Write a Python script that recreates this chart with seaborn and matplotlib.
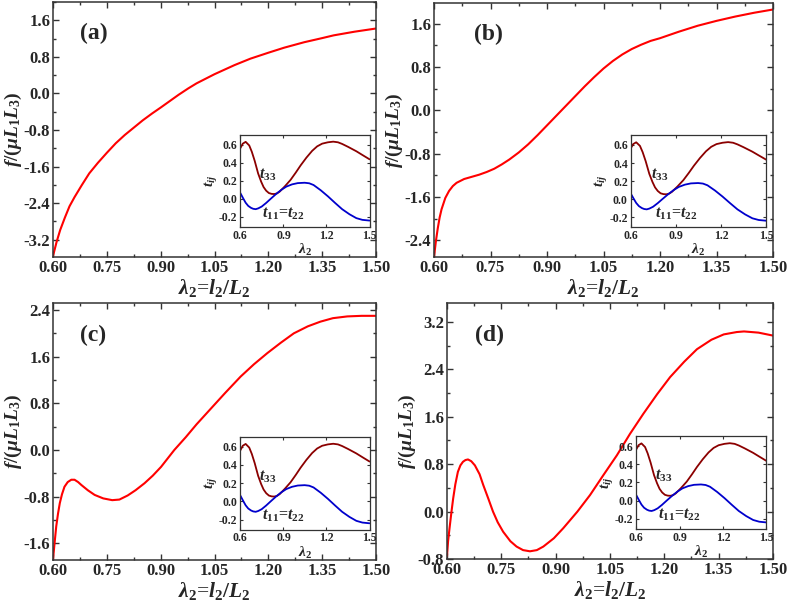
import numpy as np
import pandas as pd
import matplotlib
matplotlib.use("Agg")
import matplotlib.pyplot as plt
from matplotlib.ticker import MultipleLocator, FormatStrFormatter
import seaborn as sns

# main curves f/(mu L1 L3) vs lambda2
lam_a = [0.600, 0.610, 0.620, 0.633, 0.646, 0.660, 0.680, 0.701, 0.725, 0.750, 0.775,
         0.800, 0.825, 0.850, 0.876, 0.900, 0.925, 0.950, 0.977, 1.000, 1.050, 1.106,
         1.150, 1.200, 1.244, 1.300, 1.350, 1.382, 1.440, 1.500]
f_a = [-3.56, -3.25, -2.99, -2.72, -2.47, -2.27, -2.01, -1.75, -1.52, -1.30, -1.09,
       -0.91, -0.75, -0.59, -0.44, -0.31, -0.17, -0.03, 0.11, 0.22, 0.42, 0.62,
       0.76, 0.89, 1.00, 1.12, 1.21, 1.27, 1.35, 1.42]

lam_b = [0.600, 0.605, 0.610, 0.615, 0.620, 0.630, 0.640, 0.650, 0.660, 0.680, 0.700,
         0.720, 0.740, 0.760, 0.780, 0.800, 0.825, 0.850, 0.875, 0.900, 0.925, 0.950,
         0.975, 1.000, 1.025, 1.050, 1.075, 1.100, 1.125, 1.150, 1.175, 1.200, 1.250,
         1.300, 1.350, 1.400, 1.450, 1.500]
f_b = [-2.71, -2.42, -2.18, -1.98, -1.83, -1.62, -1.49, -1.40, -1.34, -1.27, -1.23,
       -1.19, -1.14, -1.08, -1.00, -0.91, -0.78, -0.63, -0.46, -0.28, -0.10, 0.08,
       0.26, 0.44, 0.61, 0.77, 0.91, 1.03, 1.13, 1.21, 1.28, 1.33, 1.45,
       1.56, 1.65, 1.73, 1.80, 1.86]

lam_c = [0.600, 0.604, 0.609, 0.614, 0.619, 0.625, 0.632, 0.641, 0.651, 0.660, 0.670,
         0.679, 0.697, 0.716, 0.740, 0.765, 0.785, 0.808, 0.830, 0.855, 0.878, 0.901,
         0.938, 0.970, 1.000, 1.037, 1.080, 1.123, 1.160, 1.197, 1.235, 1.271, 1.310,
         1.345, 1.380, 1.420, 1.460, 1.500]
f_c = [-1.88, -1.62, -1.31, -1.09, -0.91, -0.76, -0.63, -0.55, -0.51, -0.51, -0.55,
       -0.60, -0.69, -0.77, -0.83, -0.86, -0.85, -0.78, -0.69, -0.57, -0.44, -0.29,
       0.00, 0.22, 0.44, 0.69, 0.98, 1.26, 1.47, 1.66, 1.84, 2.00, 2.12,
       2.20, 2.26, 2.29, 2.30, 2.30]

lam_d = [0.600, 0.603, 0.607, 0.612, 0.617, 0.623, 0.630, 0.637, 0.644, 0.651, 0.658,
         0.667, 0.677, 0.690, 0.700, 0.714, 0.727, 0.740, 0.755, 0.775, 0.792, 0.810,
         0.829, 0.848, 0.866, 0.895, 0.921, 0.960, 0.995, 1.030, 1.069, 1.105, 1.142,
         1.180, 1.216, 1.255, 1.290, 1.330, 1.364, 1.400, 1.420, 1.460, 1.500]
f_d = [-0.75, -0.50, -0.28, -0.02, 0.22, 0.46, 0.67, 0.78, 0.84, 0.87, 0.88,
       0.85, 0.78, 0.63, 0.45, 0.22, 0.00, -0.18, -0.34, -0.50, -0.59, -0.65,
       -0.67, -0.65, -0.59, -0.45, -0.28, 0.00, 0.28, 0.60, 0.95, 1.31, 1.65,
       1.98, 2.27, 2.53, 2.74, 2.90, 2.99, 3.03, 3.04, 3.02, 2.97]

# inset curves t_ij vs lambda2 (same in every panel)
lam_in33 = [0.600, 0.617, 0.637, 0.662, 0.680, 0.700, 0.724, 0.745, 0.762, 0.780, 0.799,
            0.818, 0.836, 0.855, 0.874, 0.911, 0.950, 0.986, 1.020, 1.060, 1.100, 1.135,
            1.170, 1.210, 1.247, 1.280, 1.309, 1.350, 1.408, 1.450, 1.500]
t33 = [0.56, 0.61, 0.63, 0.59, 0.52, 0.42, 0.28, 0.19, 0.13, 0.09, 0.064,
       0.055, 0.053, 0.060, 0.080, 0.14, 0.21, 0.29, 0.37, 0.455, 0.53, 0.58,
       0.61, 0.625, 0.632, 0.625, 0.607, 0.575, 0.526, 0.485, 0.437]

lam_in11 = [0.600, 0.620, 0.637, 0.655, 0.675, 0.690, 0.707, 0.725, 0.749, 0.780, 0.811,
            0.850, 0.886, 0.920, 0.960, 1.000, 1.048, 1.080, 1.110, 1.160, 1.210, 1.260,
            1.309, 1.360, 1.408, 1.450, 1.500]
t11 = [0.064, 0.005, -0.043, -0.078, -0.100, -0.110, -0.114, -0.105, -0.085, -0.045, 0.000,
       0.055, 0.100, 0.135, 0.160, 0.174, 0.178, 0.172, 0.153, 0.095, 0.028, -0.045,
       -0.114, -0.170, -0.213, -0.232, -0.240]

main_x = [lam_a, lam_b, lam_c, lam_d]
main_y = [f_a, f_b, f_c, f_d]
panel_tags = ["(a)", "(b)", "(c)", "(d)"]
ylims = [(-3.58, 2.0), (-2.71, 1.98), (-1.886, 2.52), (-0.8, 3.52)]

sns.set_style("ticks")
plt.rcParams["font.family"] = ["Liberation Serif", "DejaVu Serif"]
plt.rcParams["font.weight"] = "bold"
plt.rcParams["mathtext.fontset"] = "custom"
plt.rcParams["mathtext.rm"] = "Liberation Serif:bold"
plt.rcParams["mathtext.it"] = "Liberation Serif:italic:bold"
plt.rcParams["mathtext.bf"] = "Liberation Serif:bold"
plt.rcParams["axes.unicode_minus"] = False

W, H = 787, 604
fig = plt.figure(figsize=(W / 100, H / 100), dpi=100)

# axes boxes in pixels: left, right, top, bottom, tag x
boxes = [(53, 376, 2, 257, 0.125), (434, 773, 3, 257, 0.16),
         (53, 376, 303, 560, 0.125), (447, 773, 303, 559, 0.13)]

for i in range(4):
    l, r, t, b, tagx = boxes[i]
    ax = fig.add_axes([l / W, (H - b) / H, (r - l) / W, (b - t) / H])
    df = pd.DataFrame({"lam": main_x[i], "f": main_y[i]})
    sns.lineplot(data=df, x="lam", y="f", ax=ax, color="red", lw=1.5, sort=False)
    ax.set_xlim(0.6, 1.5)
    ax.set_ylim(*ylims[i])
    ax.xaxis.set_major_locator(MultipleLocator(0.15))
    ax.xaxis.set_minor_locator(MultipleLocator(0.075))
    ax.yaxis.set_major_locator(MultipleLocator(0.8))
    ax.yaxis.set_minor_locator(MultipleLocator(0.4))
    ax.xaxis.set_major_formatter(FormatStrFormatter("%.2f"))
    ax.yaxis.set_major_formatter(FormatStrFormatter("%.1f"))
    ax.tick_params(which="both", direction="in", top=True, right=True,
                   labelsize=12, width=1.0, color="#333333", pad=2)
    ax.tick_params(which="major", length=4.5)
    ax.tick_params(which="minor", length=2.5)
    for s in ax.spines.values():
        s.set_linewidth(1.1)
        s.set_color("#333333")
    ax.set_xlabel(r"$\lambda_2$=$l_2/L_2$", fontsize=15.5, labelpad=1)
    ax.set_ylabel(r"$f/(\mu L_1 L_3)$", fontsize=14, labelpad=0)
    ax.text(tagx, 0.875, panel_tags[i], transform=ax.transAxes, fontsize=17,
            fontweight="bold", ha="center", va="center")

    # inset
    ins = ax.inset_axes([0.58, 0.118, 0.40, 0.362])
    d33 = pd.DataFrame({"lam": lam_in33, "t": t33})
    d11 = pd.DataFrame({"lam": lam_in11, "t": t11})
    sns.lineplot(data=d33, x="lam", y="t", ax=ins, color="#8b0000", lw=1.3, sort=False)
    sns.lineplot(data=d11, x="lam", y="t", ax=ins, color="#0000cc", lw=1.3, sort=False)
    ins.set_xlim(0.6, 1.5)
    ins.set_ylim(-0.31, 0.71)
    ins.xaxis.set_major_locator(MultipleLocator(0.3))
    ins.yaxis.set_major_locator(MultipleLocator(0.2))
    ins.xaxis.set_major_formatter(FormatStrFormatter("%.1f"))
    ins.yaxis.set_major_formatter(FormatStrFormatter("%.1f"))
    ins.tick_params(which="both", direction="in", top=True, right=True,
                    labelsize=8.5, length=2.5, width=0.8, pad=2, color="#333333")
    for s in ins.spines.values():
        s.set_linewidth(0.9)
        s.set_color("#333333")
    ins.set_xlabel(r"$\lambda_2$", fontsize=11, labelpad=0)
    ins.set_ylabel(r"$t_{ij}$", fontsize=11, labelpad=0)
    ins.text(0.79, 0.27, r"$t_{33}$", fontsize=11.5, transform=ins.transData,
             ha="center", va="center")
    ins.text(0.90, -0.16, r"$t_{11}$=$t_{22}$", fontsize=11.5, transform=ins.transData,
             ha="center", va="center")

fig.savefig("out.png", dpi=100)
